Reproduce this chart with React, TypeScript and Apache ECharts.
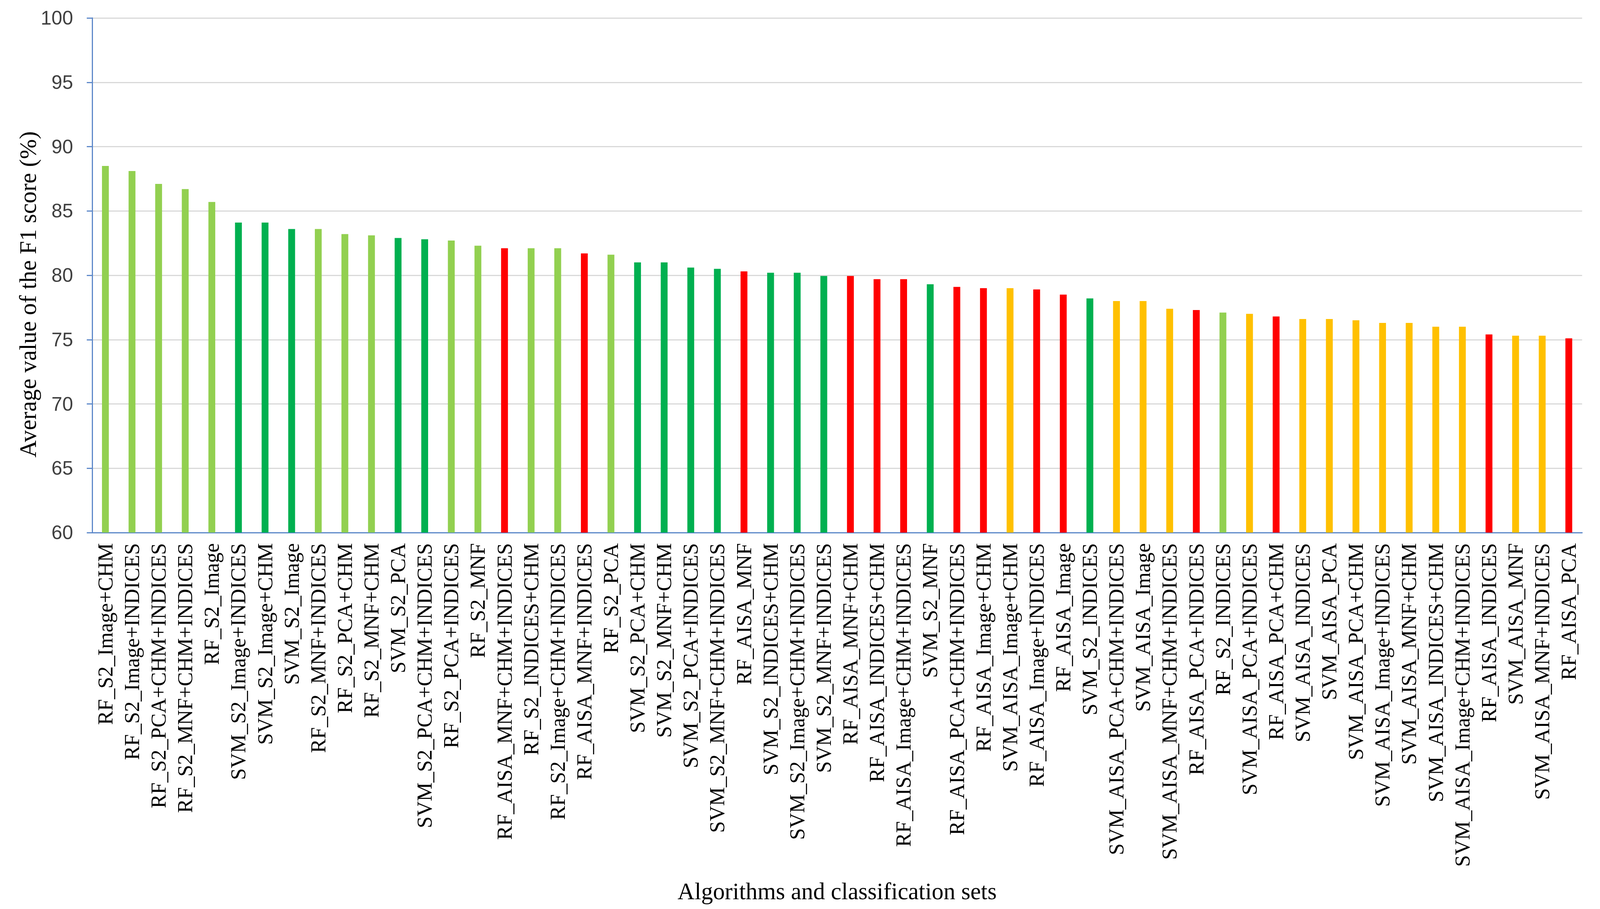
import React, { useEffect, useRef } from "react";
import * as echarts from "echarts";

const categories: string[] = [
  "RF_S2_Image+CHM", "RF_S2_Image+INDICES", "RF_S2_PCA+CHM+INDICES", "RF_S2_MNF+CHM+INDICES",
  "RF_S2_Image", "SVM_S2_Image+INDICES", "SVM_S2_Image+CHM", "SVM_S2_Image",
  "RF_S2_MNF+INDICES", "RF_S2_PCA+CHM", "RF_S2_MNF+CHM", "SVM_S2_PCA",
  "SVM_S2_PCA+CHM+INDICES", "RF_S2_PCA+INDICES", "RF_S2_MNF", "RF_AISA_MNF+CHM+INDICES",
  "RF_S2_INDICES+CHM", "RF_S2_Image+CHM+INDICES", "RF_AISA_MNF+INDICES", "RF_S2_PCA",
  "SVM_S2_PCA+CHM", "SVM_S2_MNF+CHM", "SVM_S2_PCA+INDICES", "SVM_S2_MNF+CHM+INDICES",
  "RF_AISA_MNF", "SVM_S2_INDICES+CHM", "SVM_S2_Image+CHM+INDICES", "SVM_S2_MNF+INDICES",
  "RF_AISA_MNF+CHM", "RF_AISA_INDICES+CHM", "RF_AISA_Image+CHM+INDICES", "SVM_S2_MNF",
  "RF_AISA_PCA+CHM+INDICES", "RF_AISA_Image+CHM", "SVM_AISA_Image+CHM", "RF_AISA_Image+INDICES",
  "RF_AISA_Image", "SVM_S2_INDICES", "SVM_AISA_PCA+CHM+INDICES", "SVM_AISA_Image",
  "SVM_AISA_MNF+CHM+INDICES", "RF_AISA_PCA+INDICES", "RF_S2_INDICES", "SVM_AISA_PCA+INDICES",
  "RF_AISA_PCA+CHM", "SVM_AISA_INDICES", "SVM_AISA_PCA", "SVM_AISA_PCA+CHM",
  "SVM_AISA_Image+INDICES", "SVM_AISA_MNF+CHM", "SVM_AISA_INDICES+CHM", "SVM_AISA_Image+CHM+INDICES",
  "RF_AISA_INDICES", "SVM_AISA_MNF", "SVM_AISA_MNF+INDICES", "RF_AISA_PCA",
];

const f1Values: number[] = [
  88.5, 88.1, 87.1, 86.7, 85.7, 84.1, 84.1, 83.6,
  83.6, 83.2, 83.1, 82.9, 82.8, 82.7, 82.3, 82.1,
  82.1, 82.1, 81.7, 81.6, 81.0, 81.0, 80.6, 80.5,
  80.3, 80.2, 80.2, 79.95, 79.95, 79.7, 79.7, 79.3,
  79.1, 79.0, 79.0, 78.9, 78.5, 78.2, 78.0, 78.0,
  77.4, 77.3, 77.1, 77.0, 76.8, 76.6, 76.6, 76.5,
  76.3, 76.3, 76.0, 76.0, 75.4, 75.3, 75.3, 75.1,
];

const groupColors: Record<string, string> = {
  RF_S2: "#92D050",
  SVM_S2: "#00B050",
  RF_AISA: "#FF0000",
  SVM_AISA: "#FFC000",
};

const yTicks = { min: 60, max: 100, interval: 5 };
const xTitle = "Algorithms and classification sets";
const yTitle = "Average value of the F1 score (%)";

function groupOf(name: string): string {
  const parts = name.split("_");
  return parts[0] + "_" + parts[1];
}

export default function App() {
  const ref = useRef<HTMLDivElement>(null);
  useEffect(() => {
    if (!ref.current) return;
    const el = ref.current;
    const w = el.clientWidth || 4204;
    const h = el.clientHeight || 2328;
    const s = w / 4204;
    const sv = h / 2328;
    const chart = echarts.init(el, undefined, { renderer: "svg" });
    chart.setOption({
      animation: false,
      backgroundColor: "#ffffff",
      grid: { left: 242 * s, right: 47 * s, top: 46 * sv, bottom: 964 * sv, containLabel: false },
      graphic: [
        {
          type: "text",
          x: 73 * s,
          y: 754 * sv,
          rotation: Math.PI / 2,
          style: {
            text: yTitle,
            fontFamily: "Liberation Serif",
            fontSize: 61 * sv,
            fill: "#000",
            align: "center",
            verticalAlign: "middle",
          },
        },
      ],
      xAxis: {
        type: "category",
        data: categories,
        name: xTitle,
        nameLocation: "middle",
        nameGap: 888 * sv,
        nameTextStyle: { fontFamily: "Liberation Serif", fontSize: 62 * s, color: "#000" },
        axisLine: { lineStyle: { color: "#5B87C9", width: 3 * s } },
        axisTick: { show: false },
        axisLabel: {
          rotate: 90,
          interval: 0,
          margin: 27 * sv,
          fontFamily: "Liberation Serif",
          fontSize: 54 * sv,
          color: "#000",
        },
      },
      yAxis: {
        type: "value",
        min: yTicks.min,
        max: yTicks.max,
        interval: yTicks.interval,
        axisLine: { show: true, lineStyle: { color: "#5B87C9", width: 3 * s } },
        axisTick: { show: true, length: 14 * s, lineStyle: { color: "#5B87C9", width: 3 * s } },
        axisLabel: { fontFamily: "Liberation Sans", fontSize: 51 * s, color: "#404040", margin: 50 * s },
        splitLine: { lineStyle: { color: "#D9D9D9", width: 3 * sv } },
      },
      series: [
        {
          type: "bar",
          barWidth: 18 * s,
          data: f1Values.map((v, i) => ({
            value: v,
            itemStyle: { color: groupColors[groupOf(categories[i])] },
          })),
        },
      ],
    });
    return () => chart.dispose();
  }, []);
  return (
    <div
      ref={ref}
      style={{ position: "fixed", left: 0, top: 0, width: "100vw", height: "100vh" }}
    />
  );
}
